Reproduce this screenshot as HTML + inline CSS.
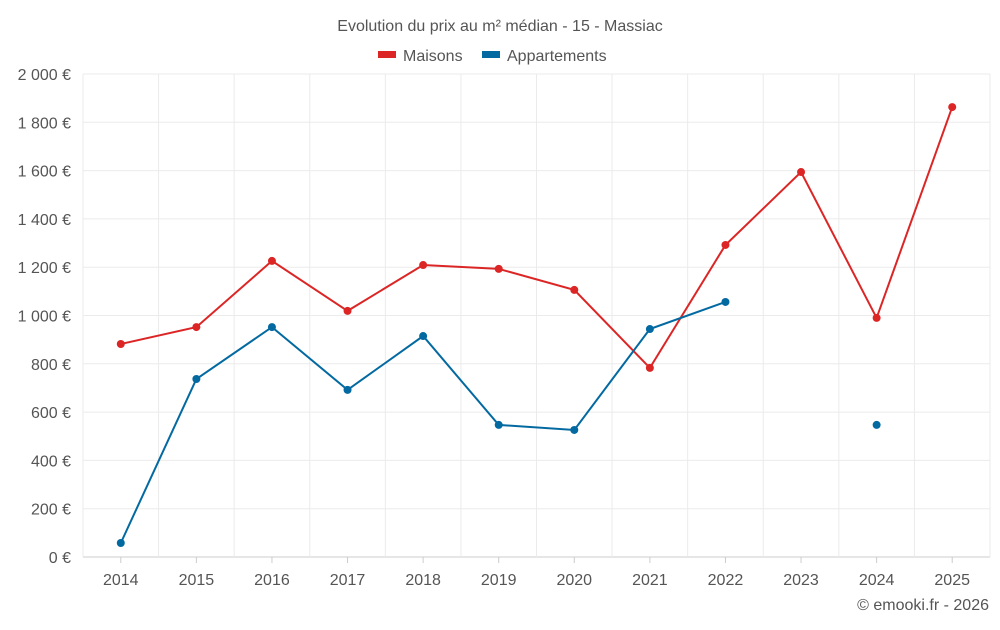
<!DOCTYPE html>
<html><head><meta charset="utf-8">
<style>
body{margin:0;background:#fff;font-family:"Liberation Sans",sans-serif;}
svg text{font-family:"Liberation Sans",sans-serif;fill:#555;}
</style></head>
<body>
<svg id="chart" width="1000" height="625" viewBox="0 0 1000 625" xmlns="http://www.w3.org/2000/svg">
<text x="500" y="31" text-anchor="middle" font-size="16">Evolution du prix au m² médian - 15 - Massiac</text>
<g>
<g><rect x="378" y="51" width="18" height="7" fill="#dc2626"/><text x="403" y="61" font-size="16">Maisons</text></g>
<g><rect x="482" y="51" width="18" height="7" fill="#0369a1"/><text x="507" y="61" font-size="16">Appartements</text></g>
</g>
<g id="grid"></g>
<g id="axes"></g>
<g id="series"></g>
<text x="989" y="610" text-anchor="end" font-size="16">© emooki.fr - 2026</text>
</svg>
<script>
const years=["2014","2015","2016","2017","2018","2019","2020","2021","2022","2023","2024","2025"];
const maisons=[882,952,1226,1019,1209,1193,1106,783,1292,1594,990,1863];
const appartements=[58,737,952,692,915,547,526,944,1056,null,547,null];
const yTicks=[0,200,400,600,800,1000,1200,1400,1600,1800,2000];
const yTickLabels=["0 €","200 €","400 €","600 €","800 €","1 000 €","1 200 €","1 400 €","1 600 €","1 800 €","2 000 €"];
const L=83,R=990,T=74,B=557,ymax=2000;
const bw=(R-L)/years.length;
const x=i=>L+bw*(i+0.5);
const y=v=>B-(v/ymax)*(B-T);
const NS="http://www.w3.org/2000/svg";
function mk(tag,attrs,parent){const e=document.createElementNS(NS,tag);for(const k in attrs)e.setAttribute(k,attrs[k]);parent.appendChild(e);return e;}
const grid=document.getElementById('grid'),axes=document.getElementById('axes'),ser=document.getElementById('series');
yTicks.forEach((t,i)=>{
 const l=mk('line',{x1:L,x2:R,y1:y(t),y2:y(t),stroke:i==0?'#ccc':'#ebebeb','stroke-width':1},grid);
 
 
 const tx=mk('text',{x:71,y:y(t)+6,'text-anchor':'end','font-size':16},axes);tx.textContent=yTickLabels[i];
 
 
});
for(let i=0;i<=years.length;i++){
 const l=mk('line',{x1:L+bw*i,x2:L+bw*i,y1:T,y2:B,stroke:'#ebebeb','stroke-width':1},grid);
 
 
}
years.forEach((yr,i)=>{
 const tk=mk('line',{x1:x(i),x2:x(i),y1:B,y2:B+6,stroke:'#ccc'},axes);
 
 
 const tx=mk('text',{x:x(i),y:B+28,'text-anchor':'middle','font-size':16},axes);tx.textContent=yr;
 
 
});
function drawSeries(vals,color,name){
 let d='',pen=false;
 vals.forEach((v,i)=>{if(v==null){pen=false;return;}d+=(pen?'L':'M')+x(i)+' '+y(v)+' ';pen=true;});
 const p=mk('path',{d:d,fill:'none',stroke:color,'stroke-width':2},ser);
 
 
 vals.forEach((v,i)=>{if(v==null)return;
  const c=mk('circle',{cx:x(i),cy:y(v),r:4,fill:color},ser);
  
  
 });
}
drawSeries(maisons,'#dc2626','maisons');
drawSeries(appartements,'#0369a1','appartements');
</script>
</body></html>
